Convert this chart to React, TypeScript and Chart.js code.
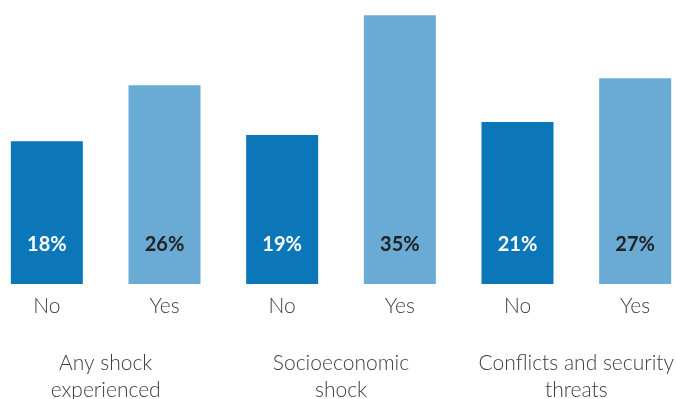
import React, { useEffect, useRef } from "react";
import { Chart, registerables } from "chart.js";

Chart.register(...registerables);

const answerLabels = ["No", "Yes", "No", "Yes", "No", "Yes"];
const groupLabels = [
  ["Any shock", "experienced"],
  ["Socioeconomic", "shock"],
  ["Conflicts and security", "threats"],
];
const shareValues = [18.6, 25.9, 19.4, 35.0, 21.1, 26.8];
const shareLabels = ["18%", "26%", "19%", "35%", "21%", "27%"];
const barColors = ["#0b77b8", "#69abd5", "#0b77b8", "#69abd5", "#0b77b8", "#69abd5"];
const labelColors = ["#ffffff", "#222222", "#ffffff", "#222222", "#ffffff", "#222222"];

const FONT = "Lato, 'Open Sans', sans-serif";

const valueLabelPlugin = {
  id: "valueLabels",
  afterDatasetsDraw(chart: any) {
    const ctx = chart.ctx;
    const meta = chart.getDatasetMeta(0);
    ctx.save();
    ctx.font = `bold 20px ${FONT}`;
    ctx.textAlign = "center";
    ctx.textBaseline = "middle";
    meta.data.forEach((bar: any, i: number) => {
      ctx.fillStyle = labelColors[i];
      ctx.fillText(shareLabels[i], bar.x, bar.base - 39);
    });
    ctx.restore();
  },
};

export default function App() {
  const ref = useRef<HTMLCanvasElement | null>(null);

  useEffect(() => {
    if (!ref.current) return;
    const chart = new Chart(ref.current, {
      type: "bar",
      data: {
        labels: answerLabels,
        datasets: [
          {
            data: shareValues,
            backgroundColor: barColors,
            borderWidth: 0,
            categoryPercentage: 1,
            barPercentage: 0.612,
          },
        ],
      },
      options: {
        animation: false,
        responsive: true,
        maintainAspectRatio: false,
        layout: { padding: 0 },
        plugins: {
          legend: { display: false },
          tooltip: { enabled: false },
        },
        scales: {
          y: { display: false, min: 0, max: 37 },
          x: {
            position: "bottom",
            grid: { display: false, drawTicks: false },
            border: { display: false },
            ticks: {
              color: "#3d3d3d",
              padding: 10,
              font: { family: FONT, size: 21, weight: "300", lineHeight: 1.2 },
            },
            afterFit: (s: any) => {
              s.height = 50;
            },
          },
          x2: {
            type: "category",
            position: "bottom",
            labels: groupLabels as any,
            grid: { display: false, drawTicks: false },
            border: { display: false },
            ticks: {
              color: "#3d3d3d",
              padding: 16,
              font: { family: FONT, size: 21, weight: "300", lineHeight: 1.28 },
            },
            afterFit: (s: any) => {
              s.height = 96;
            },
          },
        },
      } as any,
      plugins: [valueLabelPlugin],
    });
    return () => chart.destroy();
  }, []);

  return (
    <div
      style={{
        position: "absolute",
        top: 0,
        left: 0,
        width: 676,
        height: 399,
        overflow: "hidden",
        background: "#fff",
      }}
    >
      <div style={{ position: "absolute", left: -12, top: 0, width: 706, height: 430 }}>
        <canvas ref={ref} />
      </div>
    </div>
  );
}
